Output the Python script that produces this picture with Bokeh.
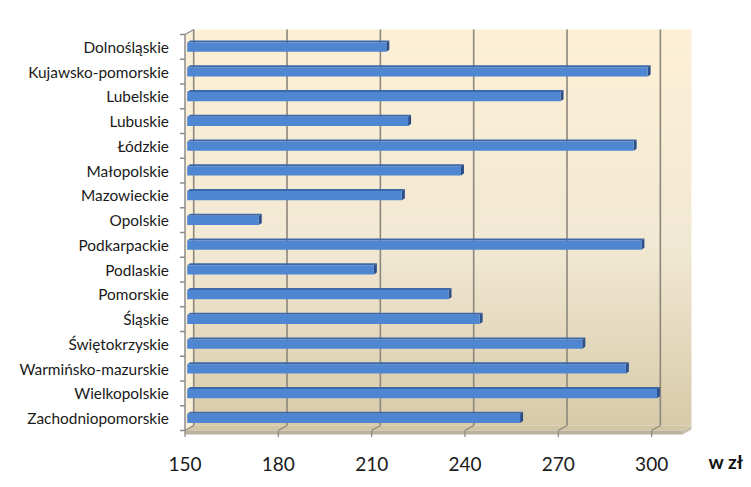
import numpy as np
from bokeh.plotting import figure
from bokeh.models import Range1d
from bokeh.core.properties import value
from bokeh.embed import file_html
from bokeh.resources import INLINE

# ---- data ----
regions = ["Dolnośląskie", "Kujawsko-pomorskie", "Lubelskie", "Lubuskie", "Łódzkie",
           "Małopolskie", "Mazowieckie", "Opolskie", "Podkarpackie", "Podlaskie",
           "Pomorskie", "Śląskie", "Świętokrzyskie", "Warmińsko-mazurskie",
           "Wielkopolskie", "Zachodniopomorskie"]
values = [214, 298, 270, 221, 293.5, 238, 219, 173, 296, 210, 234, 244, 277, 291, 301, 257]
x_ticks = [150, 180, 210, 240, 270, 300]
x_tick_labels = ["150", "180", "210", "240", "270", "300"]
x_min, x_max = 150, 310
unit_label = "w zł"

# ---- geometry helpers (pixels -> data units) ----
KX = 93.33 / 30.0   # px per x unit
KY = 24.75          # px per category band
X0_PX, Y0_PX = 184.5, 430.0   # pixel position of (150, 0) on the front plane
DXB = 8.7 / KX      # depth offset of back wall
DYB = 5.0 / KY
n = len(regions)

W, H = 751, 487

p = figure(width=W, height=H,
           x_range=Range1d(x_min - X0_PX / KX, x_min + (W - X0_PX) / KX),
           y_range=Range1d(-(H - Y0_PX) / KY, Y0_PX / KY),
           output_backend="svg", toolbar_location=None,
           min_border_left=0, min_border_right=0,
           min_border_top=0, min_border_bottom=0)
p.outline_line_color = None
p.xgrid.visible = False
p.ygrid.visible = False
p.background_fill_color = "white"
p.border_fill_color = "white"
p.xaxis.visible = False
p.yaxis.visible = False

# left side wall
p.patch([x_min, x_min, x_min + DXB, x_min + DXB], [0, n, n + DYB, DYB],
        fill_color="#FBEFD8", line_color=None)

# back wall gradient
N = 240
t = np.linspace(0, 1, N)  # 0 bottom -> 1 top
stops_t = [0.0, 0.45, 1.0]
stops = np.array([[216, 203, 170], [242, 233, 212], [253, 240, 214]], dtype=float)
rgb = np.stack([np.interp(t, stops_t, stops[:, k]) for k in range(3)], axis=1)
img = np.empty((N, 1), dtype=np.uint32)
view = img.view(dtype=np.uint8).reshape((N, 1, 4))
view[:, 0, 0] = rgb[:, 0].astype(np.uint8)
view[:, 0, 1] = rgb[:, 1].astype(np.uint8)
view[:, 0, 2] = rgb[:, 2].astype(np.uint8)
view[:, 0, 3] = 255
p.image_rgba(image=[img], x=x_min + DXB, y=DYB, dw=x_max - x_min, dh=n)

# floor
p.patch([x_min, x_max, x_max + DXB, x_min + DXB], [0, 0, DYB, DYB],
        fill_color="#D2C5A3", line_color=None)
TH = 4.0 / KY
p.patch([x_min, x_max, x_max, x_min], [0, 0, -TH, -TH],
        fill_color="#B9B19D", line_color=None)
p.patch([x_max, x_max + DXB, x_max + DXB, x_max], [0, DYB, DYB - TH, -TH],
        fill_color="#C9C1AC", line_color=None)

# gridlines on back wall and floor
grid_col = "#8C877C"
for tk in x_ticks:
    p.line([tk + DXB, tk + DXB], [DYB, n + DYB], line_color=grid_col, line_width=1.6)
    p.line([tk, tk + DXB], [0, DYB], line_color=grid_col, line_width=1.3)

# front axis line and wall top edge
p.line([x_min, x_min], [0, n], line_color="#8C8C8C", line_width=1.5)
p.line([x_min, x_min + DXB], [n, n + DYB], line_color="#8C8C8C", line_width=1.3)

# x tick marks and labels
p.segment(x0=x_ticks, y0=[0] * len(x_ticks), x1=x_ticks, y1=[-6.5 / KY] * len(x_ticks),
          line_color="#8C8C8C", line_width=1.3)
p.text(x=x_ticks, y=[-33.0 / KY] * len(x_ticks), text=x_tick_labels,
       text_font=value("Lato"), text_font_size="19px", text_color="#1a1a1a",
       text_align="center", text_baseline="middle")

# y boundary ticks and category labels
bounds = list(range(n + 1))
p.segment(x0=[x_min - 5.0 / KX] * len(bounds), y0=bounds, x1=[x_min] * len(bounds), y1=bounds,
          line_color="#8C8C8C", line_width=1.3)
centers = [n - 0.5 - i for i in range(n)]
p.text(x=[x_min - 16.0 / KX] * n, y=centers, text=regions,
       text_font=value("Lato"), text_font_size="15.4px", text_color="#1a1a1a",
       text_align="right", text_baseline="middle")

# bars (3D look)
bdx = 2.2 / KX
sx = 3.0 / KX
sy = 2.0 / KY
left = x_min + bdx
tx, ty, rx, ry = [], [], [], []
for v, c in zip(values, centers):
    b, tp = c - 0.2, c + 0.18
    r = v + bdx
    tx.append([left, r, r + sx, left + sx]); ty.append([tp, tp, tp + sy, tp + sy])
    rx.append([r, r, r + sx, r + sx]); ry.append([b, tp, tp + sy, b + sy])
p.patches(tx, ty, fill_color="#3D68AA", line_color=None)
p.patches(rx, ry, fill_color="#2C4F8A", line_color=None)
p.quad(left=left, right=[v + bdx for v in values],
       bottom=[c - 0.2 for c in centers], top=[c + 0.18 for c in centers],
       fill_color="#4F86D1", line_color=None)

# unit label
p.text(x=[x_min + (708 - X0_PX) / KX], y=[(Y0_PX - 460.7) / KY], text=[unit_label],
       text_font=value("Lato"), text_font_size="19px", text_font_style="bold",
       text_color="#111111", text_align="left", text_baseline="alphabetic")

open("out.html", "w").write(file_html(p, INLINE))
